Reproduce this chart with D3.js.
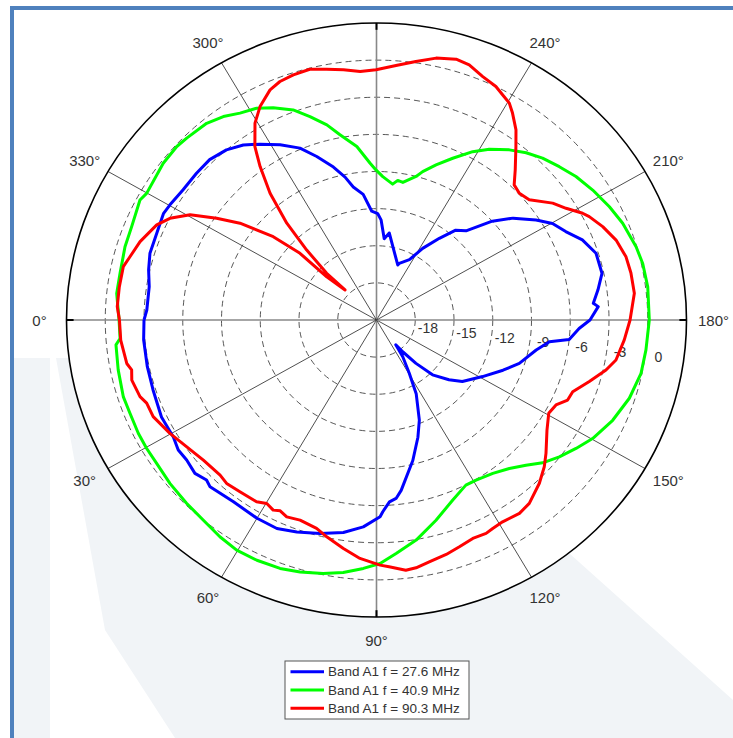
<!DOCTYPE html>
<html>
<head>
<meta charset="utf-8">
<script src="https://cdn.jsdelivr.net/npm/d3@7"></script>
<style>
  body { margin: 0; background: #fff; }
  text { font-family: "Liberation Sans", Arial, sans-serif; fill: #333; }
</style>
</head>
<body>
<div id="chart"></div>
<script>
// angulo (grados), nivel (dB)
var blue = [
  [0,-3.0],[5.1,-2.9],[12.0,-2.86],[18.1,-2.8],[25.2,-2.6],[31.0,-2.65],[34.4,-2.4],[37.6,-2.45],
  [41.4,-2.26],[44.5,-2.55],[46.3,-2.35],[53.0,-2.6],[60.0,-2.5],[65.4,-2.47],[70.2,-2.8],[75.8,-3.2],
  [81.5,-3.64],[86.5,-4.25],[91.0,-5.1],[91.8,-5.5],[93.9,-6.27],[96.0,-6.5],[97.9,-7.1],[103.9,-9.3],
  [108.7,-11.0],[112.3,-12.26],[117.3,-14.3],[120.5,-16.0],[124.4,-17.4],[126.7,-18.5],[128.4,-17.7],
  [131.1,-16.35],[134.4,-14.8],[139.3,-13.6],[143.2,-12.7],[150.9,-11.6],[157.5,-10.4],[162.4,-9.4],
  [168.9,-8.4],[172.5,-7.5],[174.0,-6.0],[177.5,-5.3],[180,-4.47],[183.6,-3.8],[184.6,-4.16],[188.1,-3.68],
  [192.2,-3.14],[197.6,-3.17],[202.1,-3.8],[206.0,-4.7],[209.8,-5.3],[213.2,-6.24],[217.9,-7.6],
  [221.7,-9.0],[226.1,-11.0],[229.8,-11.5],[233.6,-12.8],[238.3,-14.2],[242.4,-15.5],[248.9,-16.1],
  [249.7,-16.26],[258.1,-14.9],[262.0,-13.9],[264.8,-14.4],[267.5,-12.9],[269.4,-12.4],[272.4,-12.2],
  [275.8,-10.8],[279.5,-10.1],[281.9,-9.2],[285.1,-8.2],[289.3,-7.0],[293.1,-5.9],[297.8,-5.0],
  [302.4,-4.17],[306.1,-3.5],[310.2,-3.0],[314.9,-2.7],[319.6,-2.7],[324.9,-2.7],[329.8,-2.5],
  [332.4,-2.4],[337.6,-2.6],[342.9,-2.65],[347.1,-2.9],[351.3,-3.2],[357.4,-3.2],[360,-3.0]
];
var green = [
  [0,-1.07],[4.3,-1.09],[5.7,-0.73],[11.4,-0.6],[17.6,-0.44],[21.6,-0.48],[26.4,-0.41],[30.2,-0.4],
  [34.3,-0.41],[39.6,-0.26],[45.2,-0.13],[50.3,0.01],[55.3,0.3],[59.8,0.52],[64.5,0.51],[69.6,0.42],
  [73.8,0.2],[78.6,-0.1],[82.8,-0.44],[87.1,-0.9],[90.8,-1.32],[94.6,-2.07],[99.8,-2.95],[105.9,-4.18],
  [112.1,-5.3],[117.4,-5.97],[120.8,-5.94],[126.0,-5.68],[130.6,-5.2],[134.6,-4.52],[138.1,-3.72],
  [142.0,-3.04],[146.1,-2.39],[150.2,-1.72],[156.1,-1.0],[162.1,-0.43],[168.1,-0.07],[173.4,0.0],
  [180,0.12],[187.3,0.17],[192.5,0.11],[196.4,-0.05],[202.3,-0.4],[206.9,-0.78],[212.1,-1.24],
  [216.9,-1.69],[221.2,-2.19],[225.5,-2.66],[229.4,-3.2],[233.2,-3.83],[237.7,-4.67],[241.3,-5.49],
  [245.7,-6.66],[249.8,-7.65],[253.4,-8.49],[255.2,-9.0],[259.6,-9.7],[261.7,-9.6],[263.5,-9.95],
  [267.6,-9.4],[270.2,-8.87],[272.3,-8.3],[276.2,-6.9],[280.7,-5.77],[283.7,-4.77],[287.4,-3.77],
  [290.8,-2.84],[295.0,-2.07],[298.5,-1.53],[302.3,-1.22],[305.8,-0.73],[309.6,-0.37],[315.0,-0.22],
  [317.8,-0.13],[322.5,-0.19],[330.1,-0.47],[332.1,-0.28],[338.3,-0.6],[343.1,-0.65],[349.2,-0.79],
  [353.9,-0.77],[360,-1.07]
];
var red = [
  [0,-1.1],[4.7,-1.13],[10.3,-1.35],[12.0,-1.62],[14.4,-1.44],[18.7,-1.67],[20.7,-1.98],[24.3,-2.03],
  [29.8,-2.57],[34.9,-3.09],[40.2,-3.45],[46.0,-3.57],[48.7,-3.42],[52.7,-3.55],[57.7,-3.62],[60.2,-3.91],
  [62.5,-3.68],[64.2,-3.87],[66.4,-3.64],[69.9,-3.78],[74.6,-3.53],[77.6,-3.06],[82.1,-2.36],[86.2,-1.69],
  [90.8,-1.19],[92.8,-1.03],[96.4,-0.65],[98.7,-0.74],[101.8,-1.03],[105.9,-1.3],[109.3,-1.58],
  [112.9,-1.84],[116.2,-1.78],[118.1,-1.9],[120.9,-1.99],[125.3,-1.85],[128.6,-2.04],[133.7,-2.75],
  [137.6,-3.41],[140.6,-4.02],[146.0,-5.08],[150.5,-5.68],[153.7,-5.5],[156.4,-4.85],[159.1,-4.74],
  [163.2,-3.79],[167.2,-2.78],[170.1,-2.18],[175.2,-1.75],[180,-1.37],[186.2,-0.92],[190.9,-0.94],
  [194.8,-1.02],[199.2,-1.36],[203.3,-1.93],[206.9,-2.53],[208.4,-2.86],[211.6,-3.77],[214.7,-4.41],
  [219.4,-5.7],[222.8,-5.93],[225.7,-5.74],[228.5,-4.79],[232.4,-3.31],[234.9,-2.22],[237.8,-1.24],
  [239.6,-0.68],[241.8,-0.35],[243.9,0.01],[247.3,0.32],[250.8,0.83],[253.7,0.96],[257.7,0.66],
  [261.7,0.11],[265.8,-0.38],[270.1,-0.78],[273.6,-0.88],[277.2,-0.62],[280.8,-0.37],[284.3,-0.09],
  [288.0,-0.17],[291.2,-0.33],[293.9,-0.66],[297.6,-1.54],[300.6,-2.52],[303.9,-4.12],[306.0,-5.67],
  [308.8,-7.85],[311.6,-10.54],[313.7,-13.18],[315.6,-15.6],[315.1,-17.56],[317.8,-15.8],[317.7,-12.99],
  [319.9,-10.55],[323.5,-7.85],[326.4,-6.14],[329.5,-4.25],[332.8,-3.02],[335.7,-2.33],[340.9,-1.63],
  [345.0,-1.24],[347.6,-0.93],[352.3,-0.91],[356.9,-0.9],[360,-1.1]
];
var series = [
  { name: "Band A1 f = 27.6 MHz", color: "#0000ff", data: blue },
  { name: "Band A1 f = 40.9 MHz", color: "#00ff00", data: green },
  { name: "Band A1 f = 90.3 MHz", color: "#ff0000", data: red }
];
var dbTicks = [-18, -15, -12, -9, -6, -3, 0];
var angTicks = [0, 30, 60, 90, 120, 150, 180, 210, 240, 270, 300, 330];
var angLabels = ["0°", "30°", "60°", "90°", "120°", "150°", "180°", "210°", "240°", "", "300°", "330°"];

var W = 733, H = 738;
var cx = 376.5, cy = 320, rx = 310, ry = 297;

var svg = d3.select("#chart").append("svg")
    .attr("width", W).attr("height", H);

// marca de agua del fondo (muy tenue)
var wm = [
  [[12,358],[50,358],[50,738],[12,738]],
  [[56,358],[118,358],[560,545],[733,700],[733,738],[175,738],[105,630]]
];
svg.selectAll(".wm").data(wm).enter().append("polygon")
    .attr("points", d => d.map(p => p.join(",")).join(" "))
    .attr("fill", "#f1f4f7");

// marco azul
svg.append("rect").attr("x", 10).attr("y", 6).attr("width", 4).attr("height", H - 6).attr("fill", "#4f81bd");
svg.append("rect").attr("x", 10).attr("y", 6).attr("width", W - 10).attr("height", 4).attr("fill", "#4f81bd");

var r = d3.scaleLinear().domain([-21, 3]).range([0, 1]);
var rad = d3.scaleLinear().domain([0, 360]).range([0, 2 * Math.PI]);

function px(a, db) { return cx - rx * r(db) * Math.cos(rad(a)); }
function py(a, db) { return cy + ry * r(db) * Math.sin(rad(a)); }

// fondo blanco del area polar
svg.append("ellipse").attr("cx", cx).attr("cy", cy).attr("rx", rx).attr("ry", ry).attr("fill", "#fff");

// circulos de dB
svg.selectAll(".ring").data(dbTicks).enter().append("ellipse")
    .attr("cx", cx).attr("cy", cy)
    .attr("rx", d => rx * r(d)).attr("ry", d => ry * r(d))
    .attr("fill", "none").attr("stroke", "#444").attr("stroke-width", 0.9)
    .attr("stroke-dasharray", "6,4");

// radios
svg.selectAll(".spoke").data(angTicks).enter().append("line")
    .attr("x1", cx).attr("y1", cy)
    .attr("x2", d => px(d, 3)).attr("y2", d => py(d, 3))
    .attr("stroke", d => d % 90 == 0 ? "#888" : "#222")
    .attr("stroke-width", d => d % 90 == 0 ? 1.6 : 0.8);

// marcas negras en los ejes principales
svg.selectAll(".tick").data([0, 90, 180, 270]).enter().append("line")
    .attr("x1", d => px(d, 3)).attr("y1", d => py(d, 3))
    .attr("x2", d => px(d, 2.45)).attr("y2", d => py(d, 2.45))
    .attr("stroke", "#000").attr("stroke-width", 2);

svg.append("ellipse").attr("cx", cx).attr("cy", cy).attr("rx", rx).attr("ry", ry)
    .attr("fill", "none").attr("stroke", "#000").attr("stroke-width", 1.6);

// etiquetas de angulo
svg.selectAll(".alab").data(angTicks).enter().append("text")
    .attr("x", d => cx - (rx + 27) * Math.cos(rad(d)))
    .attr("y", d => cy + (ry + 23) * Math.sin(rad(d)))
    .attr("text-anchor", "middle").attr("dominant-baseline", "central")
    .attr("font-size", 15)
    .text((d, i) => angLabels[i]);

// etiquetas de dB
svg.selectAll(".rlab").data(dbTicks).enter().append("text")
    .attr("x", d => px(172.5, d) + 13)
    .attr("y", d => py(172.5, d) + 3)
    .attr("text-anchor", "middle").attr("dominant-baseline", "central")
    .attr("font-size", 14)
    .text(d => d);

// curvas
var line = d3.line()
    .x(d => px(d[0], d[1]))
    .y(d => py(d[0], d[1]));

svg.selectAll(".serie").data(series).enter().append("path")
    .attr("d", d => line(d.data))
    .attr("fill", "none")
    .attr("stroke", d => d.color)
    .attr("stroke-width", 3)
    .attr("stroke-linejoin", "round");

// leyenda
var lg = svg.append("g").attr("transform", "translate(285,661)");
lg.append("rect").attr("width", 184).attr("height", 58)
    .attr("fill", "#fff").attr("stroke", "#555").attr("stroke-width", 1);
var items = lg.selectAll(".item").data(series).enter().append("g")
    .attr("transform", (d, i) => "translate(0," + (10.7 + i * 18.3) + ")");
items.append("line").attr("x1", 5.5).attr("x2", 39).attr("y1", 0).attr("y2", 0)
    .attr("stroke", d => d.color).attr("stroke-width", 3);
items.append("text").attr("x", 43).attr("y", 0)
    .attr("dominant-baseline", "central").attr("font-size", 13.5)
    .attr("fill", "#111")
    .text(d => d.name);
</script>
</body>
</html>
